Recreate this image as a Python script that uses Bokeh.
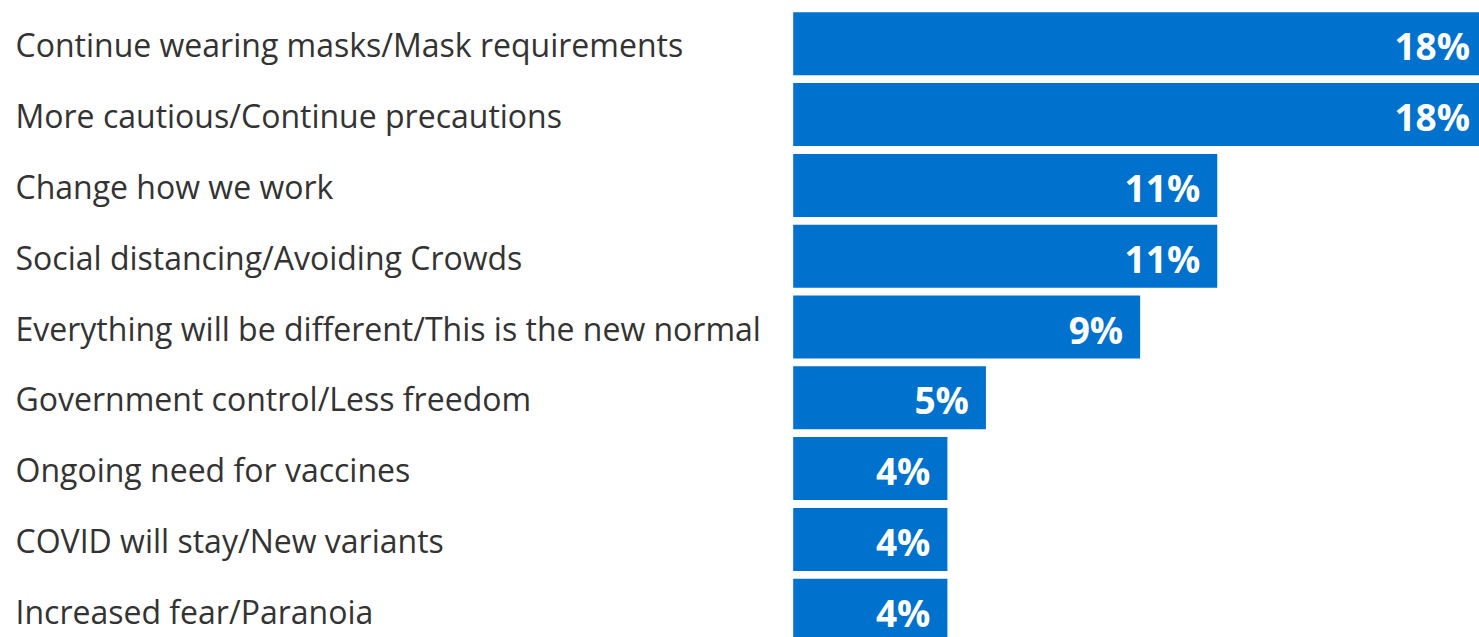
from bokeh.plotting import figure
from bokeh.models import ColumnDataSource, Range1d
from bokeh.core.properties import value
from bokeh.embed import file_html
from bokeh.resources import INLINE

categories = [
    "Continue wearing masks/Mask requirements",
    "More cautious/Continue precautions",
    "Change how we work",
    "Social distancing/Avoiding Crowds",
    "Everything will be different/This is the new normal",
    "Government control/Less freedom",
    "Ongoing need for vaccines",
    "COVID will stay/New variants",
    "Increased fear/Paranoia",
]
values = [18, 18, 11, 11, 9, 5, 4, 4, 4]
value_labels = ["18%", "18%", "11%", "11%", "9%", "5%", "4%", "4%", "4%"]

W, H = 1479, 637
PX_PER_UNIT = 38.55
ZERO_PX = 792.7
ROW_PITCH = 70.8
FIRST_ROW_PX = 43.3

x_start = -ZERO_PX / PX_PER_UNIT
x_end = (W - ZERO_PX) / PX_PER_UNIT
y_top = -FIRST_ROW_PX / ROW_PITCH
y_bottom = (H - FIRST_ROW_PX) / ROW_PITCH

idx = list(range(len(categories)))
src = ColumnDataSource(dict(
    y=idx,
    v=values,
    lab=value_labels,
    cat=categories,
    lx=[x_start] * len(categories),
))

p = figure(width=W, height=H, output_backend="svg", toolbar_location=None,
           x_range=Range1d(x_start, x_end), y_range=Range1d(y_bottom, y_top),
           min_border=0, min_border_left=0, min_border_right=0,
           min_border_top=0, min_border_bottom=0)
p.axis.visible = False
p.grid.visible = False
p.outline_line_color = None
p.background_fill_color = "white"
p.border_fill_color = "white"

p.hbar(y="y", left=0, right="v", height=0.89, source=src,
       fill_color="#0072CE", line_color=None)

p.text(x="v", y="y", text="lab", source=src, x_offset=-17, y_offset=2,
       text_align="right", text_baseline="middle",
       text_font=value("Open Sans"), text_font_style="bold",
       text_font_size="37px", text_color="white")

p.text(x="lx", y="y", text="cat", source=src, x_offset=15, y_offset=1,
       text_align="left", text_baseline="middle",
       text_font=value("Open Sans"), text_font_size="32px",
       text_color="#333333")

open("out.html", "w").write(file_html(p, INLINE))
